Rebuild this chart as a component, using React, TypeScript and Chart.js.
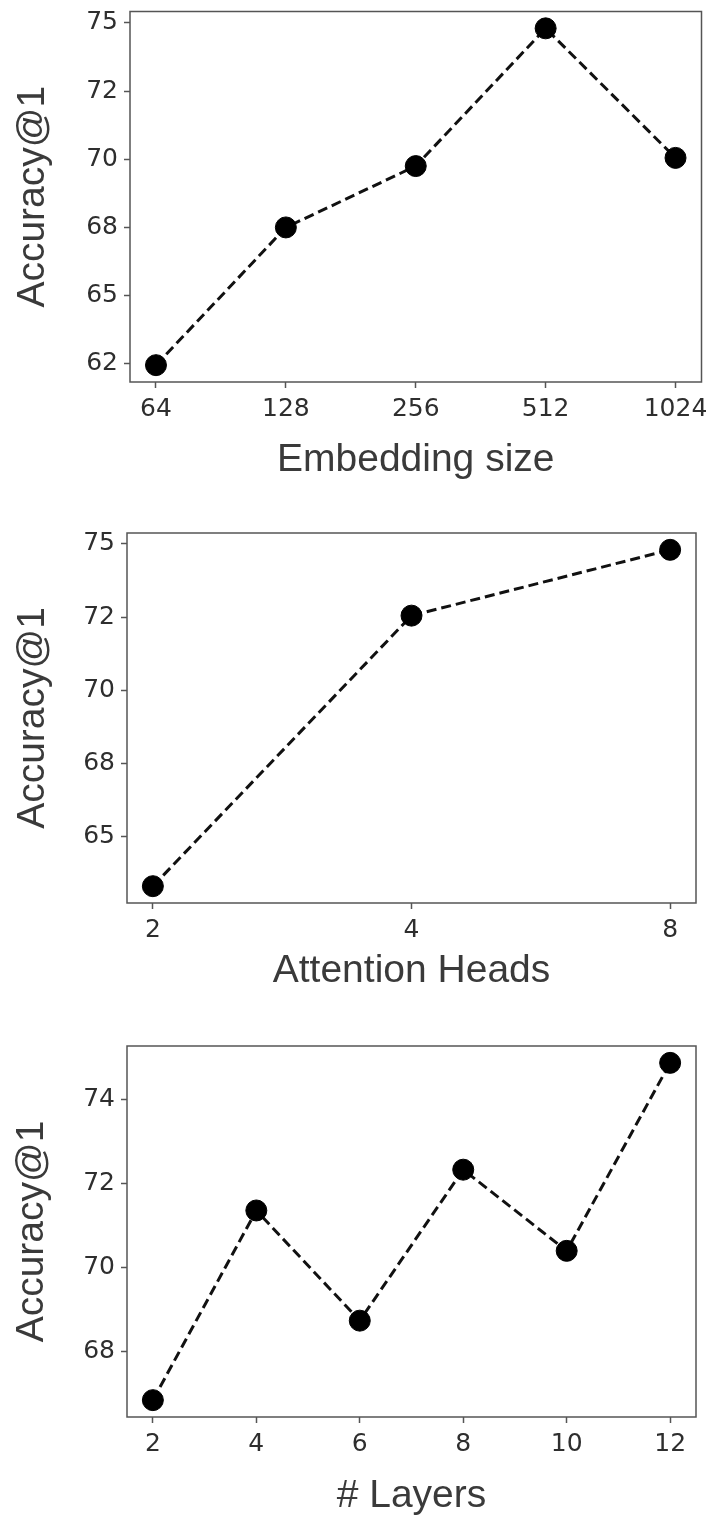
import React, { useEffect, useRef } from "react";
import { Chart, registerables } from "chart.js";

Chart.register(...registerables);

// ---- Data ----
const embeddingSizes = ["64", "128", "256", "512", "1024"];
const embeddingAccuracy = [62.45, 67.5, 69.75, 74.8, 70.05];
const embeddingYTicks = [62.5, 65, 67.5, 70, 72.5, 75];
const embeddingYTickLabels = ["62", "65", "68", "70", "72", "75"];

const attentionHeads = ["2", "4", "8"];
const headsAccuracy = [63.3, 72.55, 74.8];
const headsYTicks = [65, 67.5, 70, 72.5, 75];
const headsYTickLabels = ["65", "68", "70", "72", "75"];

const layerCounts = ["2", "4", "6", "8", "10", "12"];
const layersAccuracy = [66.85, 71.36, 68.74, 72.33, 70.4, 74.87];
const layersYTicks = [68, 70, 72, 74];
const layersYTickLabels = ["68", "70", "72", "74"];

const yTitle = "Accuracy@1";

// ---- Layout (positions only) ----
const W = 713;
const panels = [
  { key: "emb", cats: embeddingSizes, vals: embeddingAccuracy, yTicks: embeddingYTicks, yLabels: embeddingYTickLabels, xTitle: "Embedding size",
    top: 0, height: 490, aLeft: 130, aRight: 703, aTop: 9, aBottom: 382, titleMid: 460, yTitleX: 33 },
  { key: "heads", cats: attentionHeads, vals: headsAccuracy, yTicks: headsYTicks, yLabels: headsYTickLabels, xTitle: "Attention Heads",
    top: 490, height: 520, aLeft: 127, aRight: 696, aTop: 43, aBottom: 413, titleMid: 481, yTitleX: 33 },
  { key: "layers", cats: layerCounts, vals: layersAccuracy, yTicks: layersYTicks, yLabels: layersYTickLabels, xTitle: "# Layers",
    top: 1010, height: 512, aLeft: 127, aRight: 696, aTop: 36, aBottom: 407, titleMid: 486, yTitleX: 32 },
];

const TITLE_SIZE = 39;
const TICK_SIZE = 25;
const AXIS_COLOR = "#555";

const boxPlugin = {
  id: "frameBox",
  beforeDatasetsDraw(chart: any) {
    const { ctx, chartArea: a } = chart;
    ctx.save();
    ctx.strokeStyle = AXIS_COLOR;
    ctx.lineWidth = 1.5;
    ctx.strokeRect(a.left, a.top, a.right - a.left, a.bottom - a.top);
    ctx.restore();
  },
};

function padRange(vals: number[]) {
  const lo = Math.min(...vals);
  const hi = Math.max(...vals);
  const m = (hi - lo) * 0.05;
  return [lo - m, hi + m];
}

function Panel({ p }: { p: any }) {
  const ref = useRef<HTMLCanvasElement | null>(null);
  useEffect(() => {
    if (!ref.current) return;
    const n = p.cats.length;
    const [yMin, yMax] = padRange(p.vals);
    const xPad = (n - 1) * 0.05;
    const chart = new Chart(ref.current, {
      type: "line",
      data: {
        datasets: [
          {
            data: p.vals.map((y: number, i: number) => ({ x: i, y })),
            borderColor: "#111",
            borderWidth: 3,
            borderDash: [10, 5],
            pointRadius: 10.5,
            pointHoverRadius: 10.5,
            pointBackgroundColor: "#000",
            pointBorderColor: "#000",
            pointBorderWidth: 1,
            fill: false,
            tension: 0,
            clip: false as any,
          },
        ],
      },
      options: {
        animation: false,
        responsive: false,
        devicePixelRatio: 1,
        layout: { padding: { left: 0, top: p.aTop, right: W - p.aRight, bottom: 0 } },
        plugins: { legend: { display: false }, tooltip: { enabled: false } },
        scales: {
          x: {
            type: "linear",
            min: -xPad,
            max: n - 1 + xPad,
            bounds: "data",
            afterBuildTicks: (s: any) => {
              s.ticks = p.cats.map((_: string, i: number) => ({ value: i }));
            },
            afterFit: (s: any) => {
              s.height = p.height - p.aBottom;
              s.paddingLeft = 0;
              s.paddingRight = 0;
            },
            ticks: {
              autoSkip: false,
              maxRotation: 0,
              padding: 6,
              color: "#2e2e2e",
              font: { family: "DejaVu Sans", size: TICK_SIZE },
              callback: (v: any) => p.cats[Math.round(Number(v))] ?? "",
            },
            grid: { display: true, drawOnChartArea: false, drawTicks: true, tickLength: 6, tickColor: AXIS_COLOR, tickWidth: 1.5 },
            border: { display: false },
            title: {
              display: true,
              text: p.xTitle,
              color: "#3a3a3a",
              font: { family: "Liberation Sans", size: TITLE_SIZE, lineHeight: 1 },
              padding: { top: 0, bottom: p.height - p.titleMid - TITLE_SIZE / 2 },
            },
          },
          y: {
            type: "linear",
            min: yMin,
            max: yMax,
            bounds: "data",
            afterBuildTicks: (s: any) => {
              s.ticks = p.yTicks.map((v: number) => ({ value: v }));
            },
            afterFit: (s: any) => {
              s.width = p.aLeft;
              s.paddingTop = 0;
              s.paddingBottom = 0;
            },
            ticks: {
              padding: 6,
              color: "#2e2e2e",
              font: { family: "DejaVu Sans", size: TICK_SIZE },
              callback: (v: any) => {
                const idx = p.yTicks.findIndex((t: number) => Math.abs(t - Number(v)) < 1e-6);
                return idx >= 0 ? p.yLabels[idx] : "";
              },
            },
            grid: { display: true, drawOnChartArea: false, drawTicks: true, tickLength: 6, tickColor: AXIS_COLOR, tickWidth: 1.5 },
            border: { display: false },
            title: {
              display: true,
              text: yTitle,
              color: "#3a3a3a",
              font: { family: "Liberation Sans", size: TITLE_SIZE, lineHeight: 1 },
              padding: { top: p.yTitleX - TITLE_SIZE / 2, bottom: 0 },
            },
          },
        },
      },
      plugins: [boxPlugin],
    });
    return () => chart.destroy();
  }, [p]);
  return (
    <canvas
      ref={ref}
      width={W}
      height={p.height}
      style={{ position: "absolute", left: 0, top: p.top, width: W, height: p.height, display: "block" }}
    />
  );
}

export default function App() {
  return (
    <div style={{ position: "absolute", left: 0, top: 0, width: W, height: 1522, background: "#fff", overflow: "hidden" }}>
      {panels.map((p) => (
        <Panel key={p.key} p={p} />
      ))}
    </div>
  );
}
